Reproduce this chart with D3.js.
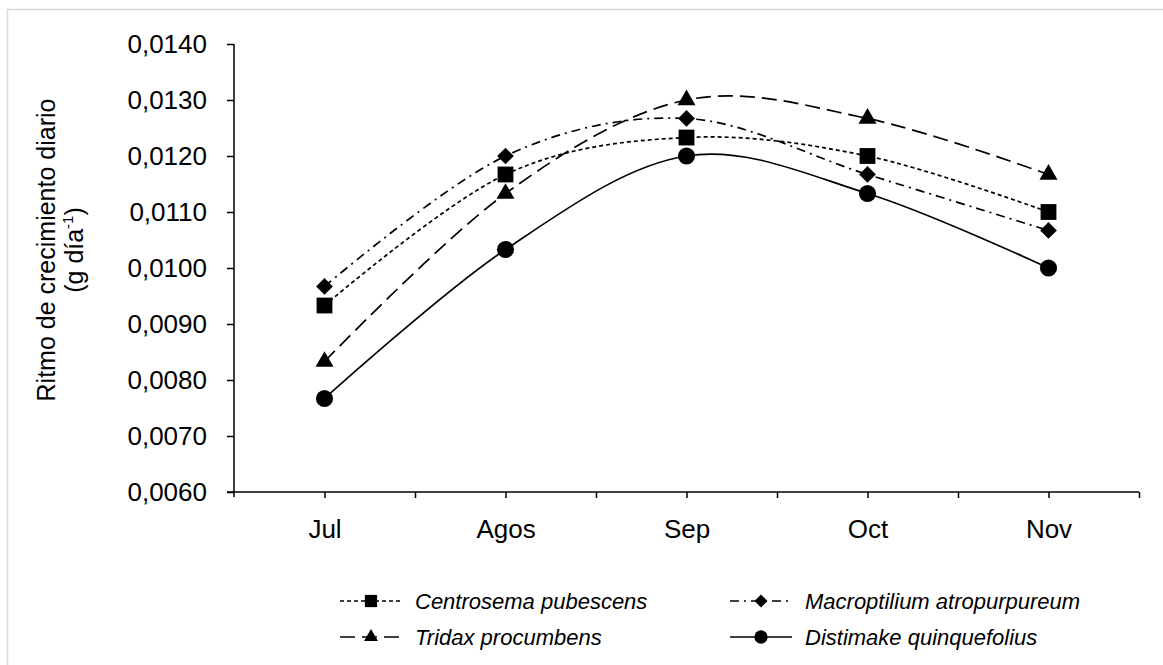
<!DOCTYPE html>
<html>
<head>
<meta charset="utf-8">
<title>Ritmo de crecimiento diario</title>
<script src="https://d3js.org/d3.v7.min.js"></script>
<style>
    html, body { margin: 0; padding: 0; background: #fff; overflow: hidden; }
    svg { display: block; font-family: "Liberation Sans", Arial, sans-serif; }
    .axis path, .axis line { stroke: #000; stroke-width: 1.5; }
    .axis text { fill: #000; font-size: 26px; }
</style>
</head>
<body>
<svg id="chart" width="1163" height="665"></svg>
<script>
    const months = ['Jul', 'Agos', 'Sep', 'Oct', 'Nov'];
    const yTicks = [0.006, 0.007, 0.008, 0.009, 0.010, 0.011, 0.012, 0.013, 0.014];

    const centrosema = [0.00933, 0.01167, 0.01233, 0.01200, 0.01100];
    const macroptilium = [0.00967, 0.01200, 0.01267, 0.01167, 0.01067];
    const tridax = [0.00833, 0.01133, 0.01300, 0.01267, 0.01167];
    const distimake = [0.00767, 0.01033, 0.01200, 0.01133, 0.01000];

    // diamond = square turned 45 degrees
    const series = [
        {name: 'Centrosema pubescens', values: centrosema, dash: '4,3', marker: d3.symbolSquare, size: 250, rot: 0},
        {name: 'Macroptilium atropurpureum', values: macroptilium, dash: '9,5,2,5', marker: d3.symbolSquare, size: 140, rot: 45},
        {name: 'Tridax procumbens', values: tridax, dash: '15,7', marker: d3.symbolTriangle, size: 140, rot: 0},
        {name: 'Distimake quinquefolius', values: distimake, dash: null, marker: d3.symbolCircle, size: 230, rot: 0}
    ];

    const margin = {left: 234, right: 1139, top: 44, bottom: 492};
    const svg = d3.select('#chart');

    // outer frame
    svg.append('rect')
        .attr('x', 7.5).attr('y', 9.5)
        .attr('width', 1162).attr('height', 662)
        .attr('fill', 'none')
        .attr('stroke', '#d9d9d9')
        .attr('stroke-width', 1.5);

    const x = d3.scalePoint()
        .domain(months)
        .range([margin.left, margin.right])
        .padding(0.5);
    const xEdges = d3.scaleLinear()
        .domain([0, months.length])
        .range([margin.left, margin.right]);
    const y = d3.scaleLinear()
        .domain([0.006, 0.014])
        .range([margin.bottom, margin.top]);

    const fmt = v => d3.format('.4f')(v).replace('.', ',');

    // y axis
    svg.append('g')
        .attr('class', 'axis')
        .attr('transform', `translate(${margin.left},0)`)
        .call(d3.axisLeft(y).tickValues(yTicks).tickFormat(fmt).tickSize(7).tickSizeOuter(0).tickPadding(20))
        .call(g => g.select('.domain').attr('d', `M0,${margin.top}V${margin.bottom + 5}`));

    // x axis: labelled ticks on categories, plain ticks on boundaries
    svg.append('g')
        .attr('class', 'axis')
        .attr('transform', `translate(0,${margin.bottom})`)
        .call(d3.axisBottom(xEdges).tickValues(d3.range(1, months.length + 1)).tickFormat('').tickSize(6).tickSizeOuter(0))
        .call(g => g.select('.domain').attr('d', `M${margin.left - 7},0H${margin.right}`));
    svg.append('g')
        .attr('class', 'axis')
        .attr('transform', `translate(0,${margin.bottom})`)
        .call(d3.axisBottom(x).tickSize(6).tickSizeOuter(0).tickPadding(22))
        .call(g => g.select('.domain').remove());

    // y label
    const yLabel = svg.append('text')
        .attr('transform', 'translate(55,250) rotate(-90)')
        .attr('text-anchor', 'middle')
        .attr('font-size', 25)
        .attr('fill', '#000');
    yLabel.append('tspan').attr('x', 0).attr('dy', 0).text('Ritmo de crecimiento diario');
    const l2 = yLabel.append('tspan').attr('x', 0).attr('dy', 28);
    l2.append('tspan').text('(g día');
    l2.append('tspan').attr('dy', -10).attr('font-size', 15).text('-1');
    l2.append('tspan').attr('dy', 10).text(')');

    const line = d3.line()
        .x((d, i) => x(months[i]))
        .y(d => y(d))
        .curve(d3.curveCatmullRom.alpha(0));

    const groups = svg.selectAll('g.series')
        .data(series)
        .join('g')
        .attr('class', 'series');

    groups.append('path')
        .attr('d', d => line(d.values))
        .attr('fill', 'none')
        .attr('stroke', '#000')
        .attr('stroke-width', 1.7)
        .attr('stroke-dasharray', d => d.dash);

    groups.selectAll('path.pt')
        .data(d => d.values.map((v, i) => ({v, i, s: d})))
        .join('path')
        .attr('class', 'pt')
        .attr('transform', d => `translate(${x(months[d.i])},${y(d.v)}) rotate(${d.s.rot})`)
        .attr('d', d => d3.symbol(d.s.marker, d.s.size)())
        .attr('fill', '#000');

    // legend
    const legendPos = [[340, 601], [730, 601], [340, 637], [730, 637]];
    const legend = svg.selectAll('g.legend')
        .data(series)
        .join('g')
        .attr('class', 'legend')
        .attr('transform', (d, i) => `translate(${legendPos[i][0]},${legendPos[i][1]})`);
    legend.append('line')
        .attr('x1', 0).attr('x2', 62)
        .attr('stroke', '#000')
        .attr('stroke-width', 1.7)
        .attr('stroke-dasharray', d => d.dash);
    legend.append('path')
        .attr('transform', d => `translate(31,0) rotate(${d.rot})`)
        .attr('d', d => d3.symbol(d.marker, d.size * 0.6)())
        .attr('fill', '#000');
    legend.append('text')
        .attr('x', 75)
        .attr('dy', '0.35em')
        .attr('font-size', 22)
        .attr('font-style', 'italic')
        .attr('fill', '#000')
        .text(d => d.name);
</script>
</body>
</html>
